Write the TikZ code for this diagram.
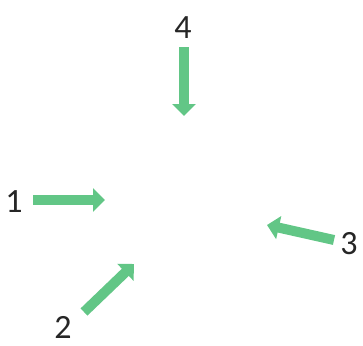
\documentclass[tikz,border=0pt]{standalone}
\usepackage{fontspec}
\setmainfont{Carlito}
\usetikzlibrary{arrows.meta}
\definecolor{arrowgreen}{RGB}{98,198,134}
\tikzset{
  fatarrow/.style={draw=arrowgreen, line width=10pt, -{Triangle[width=23pt,length=12pt]}},
  lbl/.style={font=\fontsize{34}{38}\selectfont, text=black!85, inner sep=0pt}
}
\begin{document}
\begin{tikzpicture}[x=1pt,y=-1pt]
\useasboundingbox (0,0) rectangle (363,345);
\node[lbl] (l4) at (183,28) {4};
\node[lbl] (l1) at (14,202) {1};
\node[lbl] (l2) at (63,327) {2};
\node[lbl] (l3) at (349,244) {3};
\coordinate (a4s) at (184,47);
\coordinate (a4e) at (184,116);
\coordinate (a1s) at (33,200);
\coordinate (a1e) at (105,200);
\coordinate (a2s) at (84,312);
\coordinate (a2e) at (134,264);
\coordinate (a3s) at (334,240);
\coordinate (a3e) at (267,225);
\draw[fatarrow] (a4s) -- (a4e);
\draw[fatarrow] (a1s) -- (a1e);
\draw[fatarrow] (a2s) -- (a2e);
\draw[fatarrow] (a3s) -- (a3e);
\end{tikzpicture}
\end{document}
